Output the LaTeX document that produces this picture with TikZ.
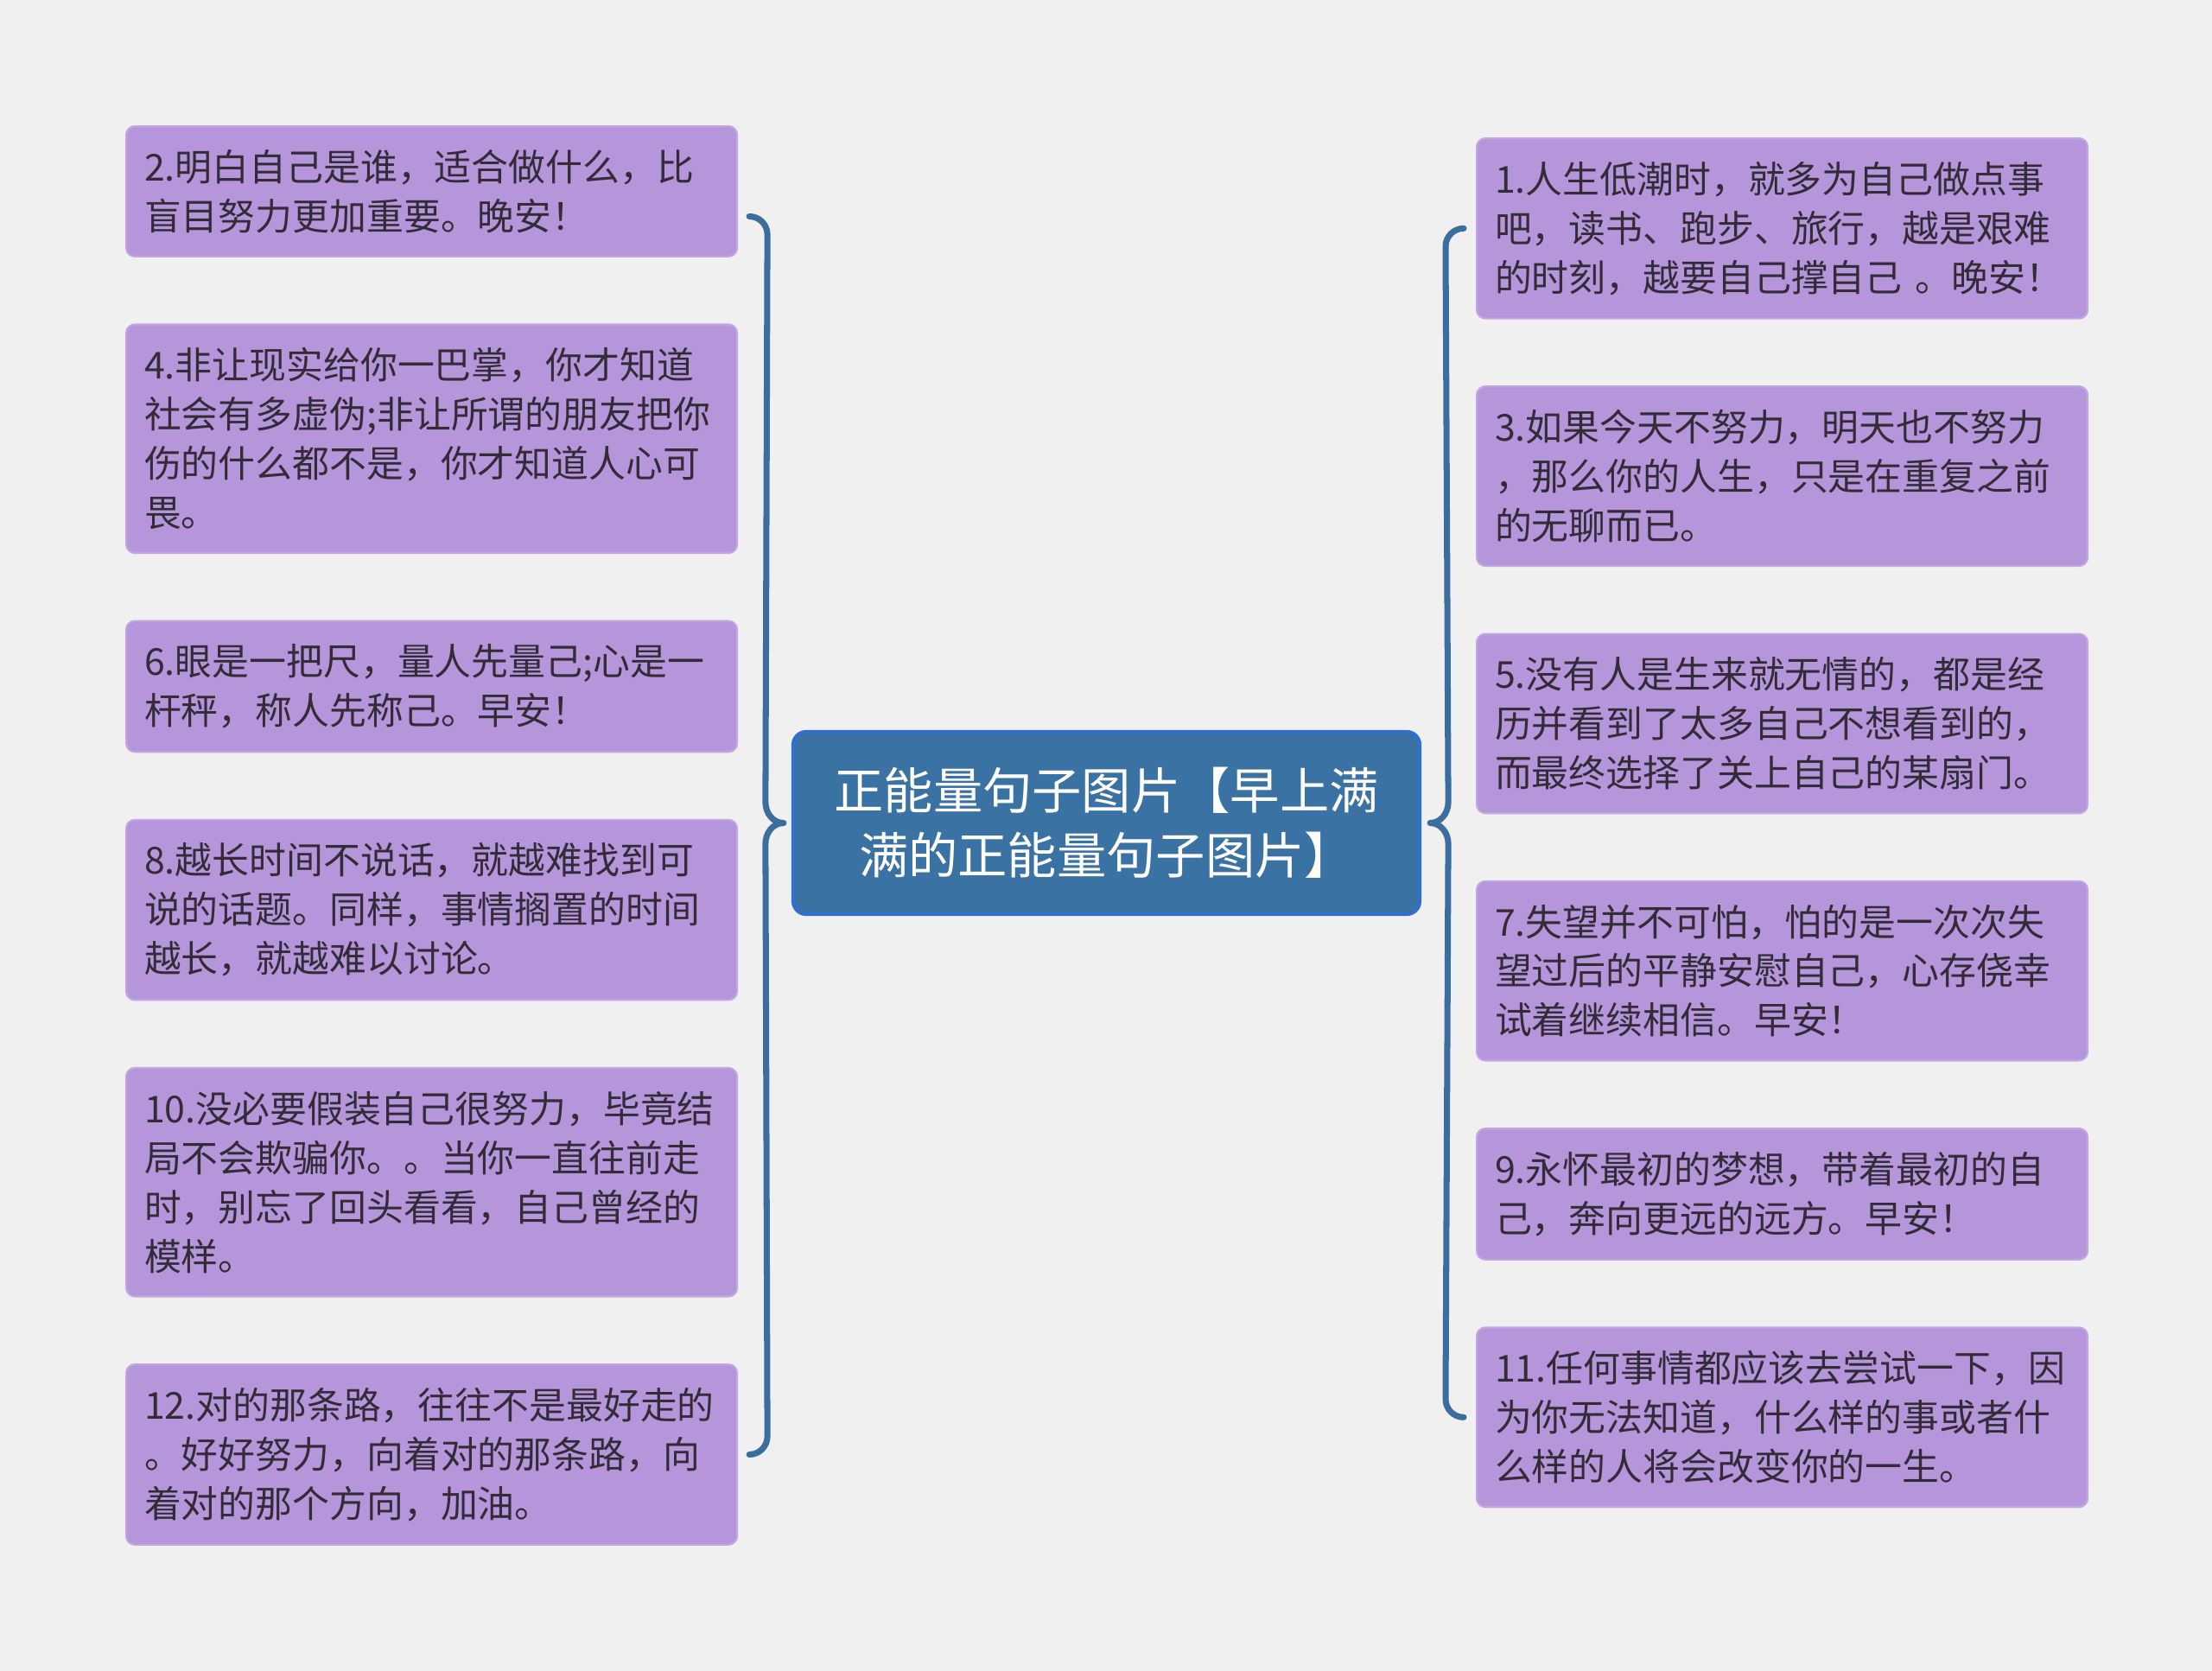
\documentclass[tikz,border=0pt]{standalone}
\usepackage{fontspec}
\setmainfont{Noto Sans CJK SC}
\usetikzlibrary{positioning}
\definecolor{fondo}{HTML}{F0F0F0}
\definecolor{lila}{HTML}{B696DA}
\definecolor{lilaborde}{HTML}{C2A6E4}
\definecolor{texto}{HTML}{332C38}
\definecolor{azul}{HTML}{3B72A4}
\definecolor{azulborde}{HTML}{2F6FD0}
\definecolor{llaveazul}{HTML}{3B6E9E}

\begin{document}
\begin{tikzpicture}[
 caja/.style={draw=lilaborde,line width=0.6pt,fill=lila,rounded corners=0.1cm,text=texto,
  text width=6.65cm,align=left,inner xsep=0.21cm,inner ysep=0.27cm,
  font=\fontsize{12.2pt}{16.2pt}\selectfont},
 central/.style={draw=azulborde,line width=1.2pt,fill=azul,rounded corners=0.15cm,text=white,
  minimum width=7.25cm,minimum height=2.11cm,align=center,
  font=\fontsize{16.3pt}{21.3pt}\selectfont},
 llave/.style={draw=llaveazul,line width=2pt,line cap=round,line join=round}]
\fill[fondo] (0,0) rectangle (25.6,-19.34);
\useasboundingbox (0,0) rectangle (25.6,-19.34);
\node[central] (centro) at (12.805,-9.525) {正能量句子图片【早上满\\满的正能量句子图片】};
% izquierda
\node[caja,anchor=north west] (l2) at (1.45,-1.45) {2.明白自己是谁，适合做什么，比\\盲目努力更加重要。晚安！};
\node[caja,below=0.765cm of l2] (l4) {4.非让现实给你一巴掌，你才知道\\社会有多虚伪;非让所谓的朋友把你\\伤的什么都不是，你才知道人心可\\畏。};
\node[caja,below=0.765cm of l4] (l6) {6.眼是一把尺，量人先量己;心是一\\杆秤，称人先称己。早安！};
\node[caja,below=0.765cm of l6] (l8) {8.越长时间不说话，就越难找到可\\说的话题。同样，事情搁置的时间\\越长，就越难以讨论。};
\node[caja,below=0.765cm of l8] (l10) {10.没必要假装自己很努力，毕竟结\\局不会欺骗你。。当你一直往前走\\时，别忘了回头看看，自己曾经的\\模样。};
\node[caja,below=0.765cm of l10] (l12) {12.对的那条路，往往不是最好走的\\。好好努力，向着对的那条路，向\\着对的那个方向，加油。};
% derecha
\node[caja,anchor=north west] (r1) at (17.08,-1.59) {1.人生低潮时，就多为自己做点事\\吧，读书、跑步、旅行，越是艰难\\的时刻，越要自己撑自己 。晚安！};
\node[caja,below=0.765cm of r1] (r3) {3.如果今天不努力，明天也不努力\\，那么你的人生，只是在重复之前\\的无聊而已。};
\node[caja,below=0.765cm of r3] (r5) {5.没有人是生来就无情的，都是经\\历并看到了太多自己不想看到的，\\而最终选择了关上自己的某扇门。};
\node[caja,below=0.765cm of r5] (r7) {7.失望并不可怕，怕的是一次次失\\望过后的平静安慰自己，心存侥幸\\试着继续相信。早安！};
\node[caja,below=0.765cm of r7] (r9) {9.永怀最初的梦想，带着最初的自\\己，奔向更远的远方。早安！};
\node[caja,below=0.765cm of r9] (r11) {11.任何事情都应该去尝试一下，因\\为你无法知道，什么样的事或者什\\么样的人将会改变你的一生。};
% llaves
\coordinate (lt) at ([xshift=0.13cm,yshift=-0.29cm]l2.east);
\coordinate (lb) at ([xshift=0.13cm]l12.east);
\coordinate (lp) at ([xshift=-0.09cm]centro.west);
\draw[llave] (lt) to[out=0,in=90] ++(0.21,-0.21) -- ([shift={(-0.21,0.24)}]lp) to[out=-90,in=180] (lp) to[out=180,in=90] ([shift={(-0.21,-0.24)}]lp) -- ([shift={(0.21,0.21)}]lb) to[out=-90,in=0] (lb);
\coordinate (rt) at ([xshift=-0.14cm]r1.west);
\coordinate (rb) at ([xshift=-0.14cm]r11.west);
\coordinate (rp) at ([xshift=0.10cm]centro.east);
\draw[llave] (rt) to[out=180,in=90] ++(-0.21,-0.21) -- ([shift={(0.21,0.24)}]rp) to[out=-90,in=0] (rp) to[out=0,in=90] ([shift={(0.21,-0.24)}]rp) -- ([shift={(-0.21,0.21)}]rb) to[out=-90,in=180] (rb);
\end{tikzpicture}
\end{document}
